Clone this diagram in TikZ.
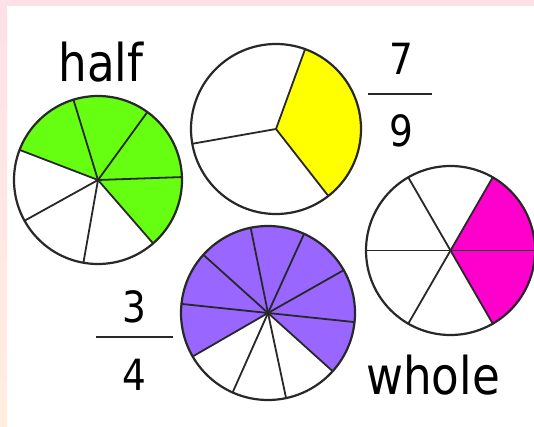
\documentclass[tikz,border=0pt]{standalone}
\usepackage{fontspec}
\newfontfamily\tah[FakeStretch=0.87]{DejaVu Sans}
\definecolor{lime}{RGB}{102,255,17}
\definecolor{yel}{RGB}{255,255,0}
\definecolor{mag}{RGB}{255,0,204}
\definecolor{pur}{RGB}{153,102,255}
\definecolor{ink}{RGB}{40,40,40}
\definecolor{pinkbg}{RGB}{253,224,232}
\definecolor{peachbg}{RGB}{255,238,224}
\tikzset{
  rim/.style={draw=ink, line width=2.2pt},
  spoke/.style={draw=ink, line width=1.8pt, line cap=round},
  lbl/.style={inner sep=0pt, anchor=base, text=black},
  word/.style={lbl, font=\tah\fontsize{52}{60}\selectfont},
  digit/.style={lbl, font=\tah\fontsize{43}{50}\selectfont},
  bar/.style={draw=ink, line width=2.6pt}
}
\begin{document}
\begin{tikzpicture}[x=1pt,y=1pt]
\useasboundingbox (0,0) rectangle (534,426);
\fill[white] (0,0) rectangle (534,426);
\shade[top color=pinkbg, bottom color=peachbg] (0,0) rectangle (7,426);
\fill[pinkbg] (0,420) rectangle (534,426);

% green pie (7 parts, 4 shaded)
\coordinate (G) at (98,246);
\fill[lime] (G) -- ++(-49:84) arc[start angle=-49, end angle=159, radius=84] -- cycle;
\foreach \a in {159,107,54,2,-49,-100,-151} \draw[spoke] (G) -- ++(\a:84);
\draw[rim] (G) circle[radius=84];

% yellow pie (3 parts, 1 shaded)
\coordinate (Y) at (276,297);
\fill[yel] (Y) -- ++(-52:85) arc[start angle=-52, end angle=70, radius=85] -- cycle;
\foreach \a in {70,-52,190} \draw[spoke] (Y) -- ++(\a:85);
\draw[rim] (Y) circle[radius=85];

% magenta pie (6 parts, 2 shaded)
\coordinate (M) at (450.5,175.5);
\fill[mag] (M) -- ++(-60:84.5) arc[start angle=-60, end angle=60, radius=84.5] -- cycle;
\foreach \a in {0,60,...,300} \draw[spoke] (M) -- ++(\a:84.5);
\draw[rim] (M) circle[radius=84.5];

% purple pie (10 parts, 7 shaded)
\coordinate (P) at (268,113);
\fill[pur] (P) -- ++(-42:87) arc[start angle=-42, end angle=210, radius=87] -- cycle;
\foreach \a in {101.5,65.5,29.5,-6,-42,-78,-114,-150,174,138} \draw[spoke] (P) -- ++(\a:87);
\draw[rim] (P) circle[radius=87];

% labels
\node[word] (half) at (101,344) {half};
\node[word] (whole) at (433,32) {whole};
\node[digit] (n7) at (401.5,351) {7};
\node[digit] (n9) at (401.5,279) {9};
\coordinate (b1l) at (368,332);
\coordinate (b1r) at (432,332);
\draw[bar] (b1l) -- (b1r);
\node[digit] (n3) at (134,104) {3};
\node[digit] (n4) at (134,36) {4};
\coordinate (b2l) at (96,89);
\coordinate (b2r) at (173,89);
\draw[bar] (b2l) -- (b2r);
\end{tikzpicture}
\end{document}
